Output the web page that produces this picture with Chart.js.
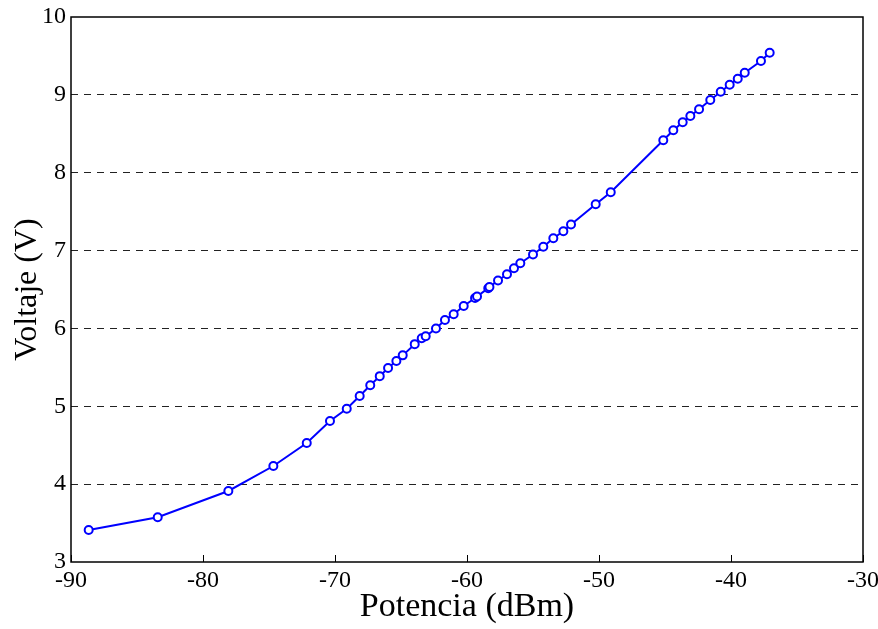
<!DOCTYPE html>
<html>
<head>
<meta charset="utf-8">
<script src="https://cdn.jsdelivr.net/npm/chart.js@4/dist/chart.umd.min.js"></script>
<style>
  html, body { margin: 0; padding: 0; background: #fff; }
  #wrap { width: 878px; height: 629px; }
</style>
</head>
<body>
<div id="wrap"><canvas id="grafico" width="878" height="629"></canvas></div>
<script>
// datos
const potencia = [-88.66, -83.43, -78.08, -74.67, -72.14, -70.38, -69.11, -68.13, -67.33, -66.61,
  -65.98, -65.35, -64.87, -63.96, -63.43, -63.13, -62.35, -61.67, -61.01, -60.25,
  -59.39, -59.24, -58.39, -58.30, -57.65, -56.97, -56.44, -55.96, -55.00, -54.22,
  -53.46, -52.70, -52.12, -50.25, -49.11, -45.13, -44.37, -43.66, -43.08, -42.42,
  -41.57, -40.78, -40.10, -39.49, -38.96, -37.73, -37.07];
const voltaje = [3.41, 3.574, 3.912, 4.233, 4.529, 4.811, 4.968, 5.132, 5.271, 5.387,
  5.492, 5.582, 5.654, 5.798, 5.873, 5.899, 5.999, 6.108, 6.183, 6.288,
  6.391, 6.410, 6.517, 6.532, 6.616, 6.695, 6.773, 6.837, 6.950, 7.050,
  7.158, 7.248, 7.335, 7.594, 7.748, 8.416, 8.545, 8.648, 8.729, 8.815,
  8.934, 9.041, 9.130, 9.208, 9.285, 9.435, 9.541];
const ticksX = [-90, -80, -70, -60, -50, -40, -30];
const ticksY = [3, 4, 5, 6, 7, 8, 9, 10];

const fuente = 'Liberation Serif, Times New Roman, serif';

// marco y marcas hacia adentro, estilo matlab
const marco = {
  id: 'marco',
  afterDraw(chart) {
    const ctx = chart.ctx;
    const a = chart.chartArea;
    const sx = chart.scales.x;
    ctx.save();
    ctx.strokeStyle = '#000';
    ctx.lineWidth = 1.5;
    ctx.strokeRect(a.left, a.top, a.right - a.left, a.bottom - a.top);
    ctx.lineWidth = 1;
    ticksX.forEach(v => {
      const px = Math.round(sx.getPixelForValue(v)) + 0.5;
      ctx.beginPath();
      ctx.moveTo(px, a.bottom);
      ctx.lineTo(px, a.bottom - 7);
      ctx.stroke();
    });
    ctx.restore();
  }
};

new Chart(document.getElementById('grafico').getContext('2d'), {
  type: 'line',
  data: {
    datasets: [{
      data: potencia.map((p, i) => ({ x: p, y: voltaje[i] })),
      borderColor: '#0000ff',
      backgroundColor: '#ffffff',
      borderWidth: 2,
      pointRadius: 4,
      pointBorderWidth: 2,
      pointBorderColor: '#0000ff',
      pointBackgroundColor: '#ffffff',
      tension: 0,
      fill: false
    }]
  },
  options: {
    responsive: false,
    animation: false,
    layout: { padding: { left: 0, top: 17, right: 15, bottom: 0 } },
    plugins: { legend: { display: false }, tooltip: { enabled: false } },
    scales: {
      x: {
        type: 'linear',
        min: -90, max: -30,
        afterBuildTicks: s => { s.ticks = ticksX.map(v => ({ value: v })); },
        afterFit: s => { s.height = 67; s.paddingLeft = 0; s.paddingRight = 0; },
        border: { display: false },
        grid: { display: false, drawTicks: false },
        ticks: { color: '#000', padding: 4, maxRotation: 0, font: { family: fuente, size: 24 } },
        title: {
          display: true, text: 'Potencia (dBm)', color: '#000',
          padding: { top: 0, bottom: 2 },
          font: { family: fuente, size: 34 }
        }
      },
      y: {
        type: 'linear',
        min: 3, max: 10,
        afterBuildTicks: s => { s.ticks = ticksY.map(v => ({ value: v })); },
        afterFit: s => { s.width = 71; s.paddingTop = 0; s.paddingBottom = 0; },
        border: { display: false, dash: [7, 6] },
        grid: {
          drawTicks: false,
          color: c => (c.tick.value === 3 || c.tick.value === 10) ? 'rgba(0,0,0,0)' : '#222',
          lineWidth: 1
        },
        ticks: { color: '#000', padding: 5, font: { family: fuente, size: 24 } },
        title: {
          display: true, text: 'Voltaje (V)', color: '#000',
          padding: { top: 8, bottom: 0 },
          font: { family: fuente, size: 32 }
        }
      }
    }
  },
  plugins: [marco]
});
</script>
</body>
</html>
